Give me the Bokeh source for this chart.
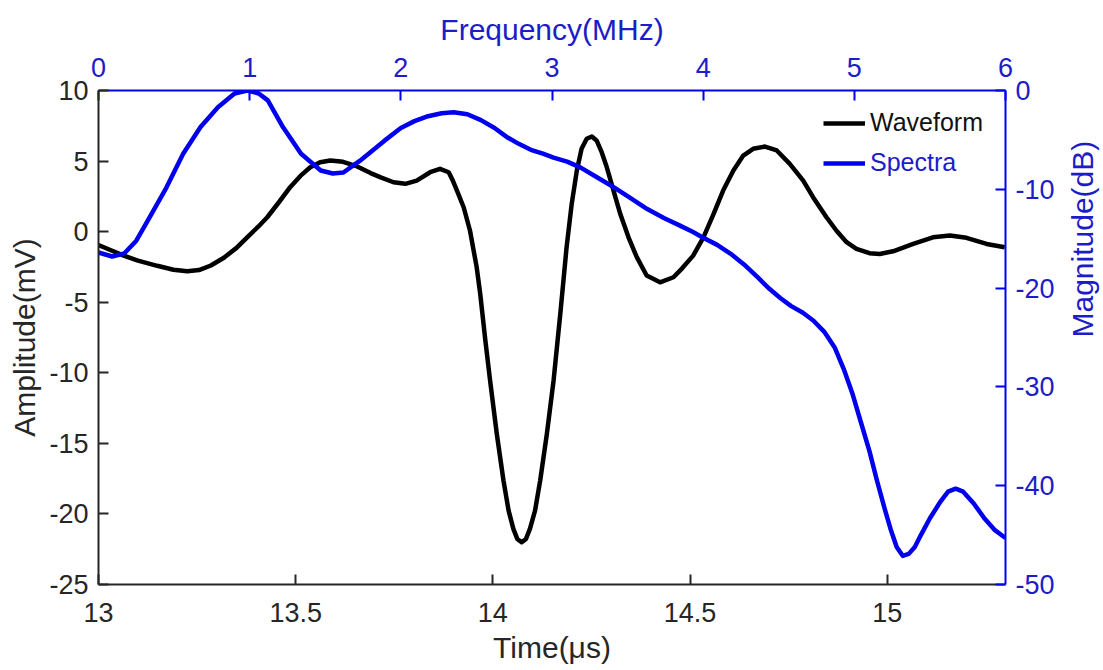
import math
from bokeh.plotting import figure
from bokeh.models import Range1d, LinearAxis, FixedTicker, PrintfTickFormatter, Legend, LegendItem
from bokeh.embed import file_html
from bokeh.resources import INLINE

# ---- data ----
time_us = [13.000, 13.030, 13.064, 13.100, 13.149, 13.190, 13.225, 13.255, 13.285, 13.318,
           13.350, 13.377, 13.405, 13.428, 13.458, 13.486, 13.512, 13.537, 13.562, 13.588,
           13.620, 13.656, 13.690, 13.714, 13.748, 13.778, 13.807, 13.841, 13.866, 13.888,
           13.898, 13.909, 13.926, 13.942, 13.959, 13.968, 13.981, 13.993, 14.010, 14.027,
           14.040, 14.052, 14.062, 14.073, 14.084, 14.094, 14.107, 14.120, 14.137, 14.154,
           14.171, 14.187, 14.200, 14.213, 14.225, 14.238, 14.251, 14.263, 14.276, 14.289,
           14.306, 14.323, 14.344, 14.365, 14.390, 14.424, 14.458, 14.480, 14.508, 14.534,
           14.559, 14.584, 14.610, 14.635, 14.660, 14.690, 14.720, 14.753, 14.787, 14.812,
           14.846, 14.871, 14.897, 14.922, 14.955, 14.981, 15.015, 15.066, 15.116, 15.159,
           15.201, 15.252, 15.298]
amplitude_mv = [-0.95, -1.30, -1.70, -2.05, -2.42, -2.70, -2.81, -2.72, -2.40, -1.85,
                -1.15, -0.40, 0.35, 1.02, 2.10, 3.15, 3.95, 4.56, 4.92, 5.04,
                4.95, 4.62, 4.15, 3.86, 3.50, 3.39, 3.62, 4.21, 4.45, 4.21,
                3.65, 2.91, 1.73, 0.08, -2.52, -4.41, -7.72, -10.55, -14.33, -17.64,
                -19.77, -21.06, -21.77, -22.01, -21.77, -21.06, -19.77, -17.64, -14.33, -10.55,
                -5.83, -1.11, 1.97, 4.33, 5.87, 6.58, 6.74, 6.46, 5.63, 4.56,
                2.91, 1.26, -0.40, -1.81, -3.11, -3.59, -3.23, -2.60, -1.70, -0.40,
                1.20, 2.91, 4.33, 5.39, 5.87, 6.03, 5.75, 4.80, 3.62, 2.44,
                1.02, 0.08, -0.75, -1.22, -1.53, -1.58, -1.39, -0.87, -0.40, -0.28,
                -0.44, -0.87, -1.11]

freq_mhz = [0.00, 0.09, 0.17, 0.25, 0.34, 0.45, 0.56, 0.675, 0.79, 0.90,
            0.985, 1.06, 1.12, 1.22, 1.34, 1.47, 1.55, 1.62, 1.73, 1.89,
            2.00, 2.09, 2.18, 2.27, 2.35, 2.44, 2.53, 2.62, 2.70, 2.78,
            2.86, 2.94, 3.01, 3.10, 3.19, 3.30, 3.41, 3.52, 3.63, 3.74,
            3.85, 3.93, 4.00, 4.09, 4.18, 4.27, 4.36, 4.44, 4.51, 4.58,
            4.66, 4.73, 4.80, 4.87, 4.93, 4.99, 5.04, 5.10, 5.15, 5.20,
            5.24, 5.28, 5.32, 5.36, 5.40, 5.44, 5.50, 5.57, 5.62, 5.67,
            5.72, 5.79, 5.86, 5.93, 6.00]
magnitude_db = [-16.4, -16.8, -16.5, -15.2, -12.8, -9.8, -6.4, -3.7, -1.7, -0.3,
                0.0, -0.3, -1.0, -3.7, -6.4, -8.1, -8.4, -8.3, -7.1, -5.1,
                -3.8, -3.1, -2.6, -2.3, -2.2, -2.4, -3.0, -3.8, -4.7, -5.4,
                -6.0, -6.4, -6.8, -7.2, -7.8, -8.8, -9.8, -10.9, -12.0, -12.9,
                -13.7, -14.3, -14.9, -15.6, -16.5, -17.6, -18.9, -20.1, -21.0, -21.8,
                -22.5, -23.3, -24.4, -26.0, -28.2, -30.8, -33.4, -36.5, -39.5, -42.3,
                -44.4, -46.2, -47.1, -46.9, -46.2, -45.0, -43.3, -41.6, -40.6, -40.3,
                -40.6, -41.8, -43.3, -44.5, -45.3]

time_ticks = [13, 13.5, 14, 14.5, 15]
amp_ticks = [-25, -20, -15, -10, -5, 0, 5, 10]
freq_ticks = [0, 1, 2, 3, 4, 5, 6]
db_ticks = [-50, -40, -30, -20, -10, 0]

FONT = "Liberation Sans"
DARK = "#262626"
BLUE_LINE = "#0000ee"
BLUE_TEXT = "#1c1cc8"

p = figure(frame_width=907, frame_height=494,
           x_range=Range1d(13, 15.3), y_range=Range1d(-25, 10),
           output_backend="svg", toolbar_location=None,
           min_border_left=98, min_border_right=98, min_border_top=90, min_border_bottom=86)
p.extra_x_ranges = {"freq": Range1d(0, 6)}
p.extra_y_ranges = {"db": Range1d(-50, 0)}
p.grid.visible = False
p.outline_line_color = None
p.background_fill_color = "white"
p.border_fill_color = "white"

ax_bottom = p.below[0]
ax_left = p.left[0]
ax_top = LinearAxis(x_range_name="freq")
ax_right = LinearAxis(y_range_name="db")
p.add_layout(ax_top, "above")
p.add_layout(ax_right, "right")


def style(ax, ticks, color, text_color, label, tick_standoff, label_standoff):
    ax.ticker = FixedTicker(ticks=ticks)
    ax.formatter = PrintfTickFormatter(format="%g")
    ax.axis_line_color = color
    ax.axis_line_width = 2
    ax.major_tick_line_color = color
    ax.major_tick_line_width = 2
    ax.major_tick_in = 10
    ax.major_tick_out = 0
    ax.minor_tick_line_color = None
    ax.major_label_text_font = FONT
    ax.major_label_text_font_size = "27px"
    ax.major_label_text_color = text_color
    ax.major_label_standoff = tick_standoff
    ax.axis_label = label
    ax.axis_label_text_font = FONT
    ax.axis_label_text_font_size = "30px"
    ax.axis_label_text_font_style = "normal"
    ax.axis_label_text_color = text_color
    ax.axis_label_standoff = label_standoff


style(ax_bottom, time_ticks, DARK, DARK, "Time(μs)", 18, 6)
style(ax_left, amp_ticks, DARK, DARK, "Amplitude(mV)", 10, 5)
style(ax_top, freq_ticks, BLUE_LINE, BLUE_TEXT, "Frequency(MHz)", 14, 9)
style(ax_right, db_ticks, BLUE_LINE, BLUE_TEXT, "Magnitude(dB)", 10, 25)
ax_right.axis_label_orientation = math.pi / 2

r_wave = p.line(time_us, amplitude_mv, line_color="black", line_width=4.5, line_join="round")
r_spec = p.line(freq_mhz, magnitude_db, line_color=BLUE_LINE, line_width=4.5, line_join="round",
                x_range_name="freq", y_range_name="db")


def make_legend(label, renderer, color, loc):
    lg = Legend(items=[LegendItem(label=label, renderers=[renderer])], location=loc,
                border_line_alpha=0, background_fill_alpha=0, padding=0, margin=0,
                glyph_width=42, glyph_height=26, label_standoff=5, spacing=0,
                label_text_font=FONT, label_text_font_size="25px", label_text_color=color)
    p.add_layout(lg)


make_legend("Waveform", r_wave, "#111111", (725, 447))
make_legend("Spectra", r_spec, BLUE_TEXT, (725, 407))

open("out.html", "w").write(file_html(p, INLINE))
